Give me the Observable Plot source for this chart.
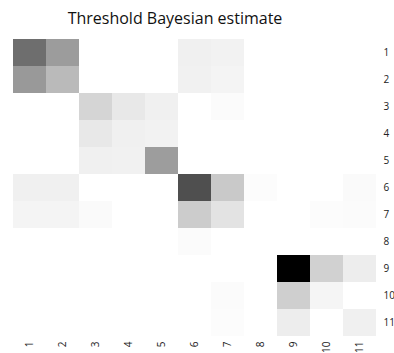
<!DOCTYPE html>
<html>
<head>
<meta charset="utf-8">
<script src="https://cdn.jsdelivr.net/npm/d3@7"></script>
<script src="https://cdn.jsdelivr.net/npm/@observablehq/plot@0.6"></script>
<style>
  html, body { margin: 0; padding: 0; background: #fff; }
  #chart { width: 394px; height: 353px; overflow: hidden; position: relative; }
  #title {
    height: 30px; width: 350px; text-align: center;
    font-family: "Open Sans", sans-serif; font-size: 16px; color: #111;
    line-height: 36px; white-space: nowrap;
  }
  #chart svg { display: block; }
</style>
</head>
<body>
<div id="chart">
  <div id="title">Threshold Bayesian estimate</div>
</div>
<script>
// Category labels shared by rows and columns
const rowLabels = ["1", "2", "3", "4", "5", "6", "7", "8", "9", "10", "11"];
const colLabels = ["1", "2", "3", "4", "5", "6", "7", "8", "9", "10", "11"];

// Estimated weights, one array per row (columns 1–11); 0 = white, 1 = black
const row1  = [0.57, 0.39, 0, 0, 0, 0.06, 0.05, 0, 0, 0, 0];
const row2  = [0.40, 0.27, 0, 0, 0, 0.055, 0.045, 0, 0, 0, 0];
const row3  = [0, 0, 0.165, 0.09, 0.06, 0, 0.015, 0, 0, 0, 0];
const row4  = [0, 0, 0.09, 0.06, 0.05, 0, 0, 0, 0, 0, 0];
const row5  = [0, 0, 0.06, 0.055, 0.385, 0, 0, 0, 0, 0, 0];
const row6  = [0.06, 0.06, 0, 0, 0, 0.69, 0.21, 0.012, 0, 0, 0.02];
const row7  = [0.045, 0.045, 0.02, 0, 0, 0.20, 0.11, 0, 0, 0.012, 0.015];
const row8  = [0, 0, 0, 0, 0, 0.015, 0, 0, 0, 0, 0];
const row9  = [0, 0, 0, 0, 0, 0, 0, 0, 1.0, 0.18, 0.07];
const row10 = [0, 0, 0, 0, 0, 0, 0.015, 0, 0.19, 0.04, 0];
const row11 = [0, 0, 0, 0, 0, 0, 0.012, 0, 0.07, 0, 0.06];

const rowsValues = [row1, row2, row3, row4, row5, row6, row7, row8, row9, row10, row11];

// Long-format table for the cell mark
const cells = [];
rowsValues.forEach((vals, i) => {
  vals.forEach((v, j) => {
    cells.push({row: rowLabels[i], col: colLabels[j], value: v});
  });
});

const chart = Plot.plot({
  width: 394,
  height: 323,
  marginTop: 4,
  marginLeft: 11,
  marginRight: 16,
  marginBottom: 13,
  style: {fontFamily: "Open Sans, sans-serif", fontSize: "10px", color: "#222", background: "#fff"},
  x: {domain: colLabels, padding: 0, tickRotate: -90, tickSize: 0, tickPadding: 1, label: null},
  y: {domain: rowLabels, padding: 0, axis: "right", tickSize: 0, tickPadding: 5, label: null},
  color: {type: "linear", domain: [0, 1], range: ["#ffffff", "#000000"]},
  marks: [
    Plot.cell(cells, {x: "col", y: "row", fill: "value", inset: 0})
  ]
});

document.getElementById("chart").appendChild(chart);
</script>
</body>
</html>
